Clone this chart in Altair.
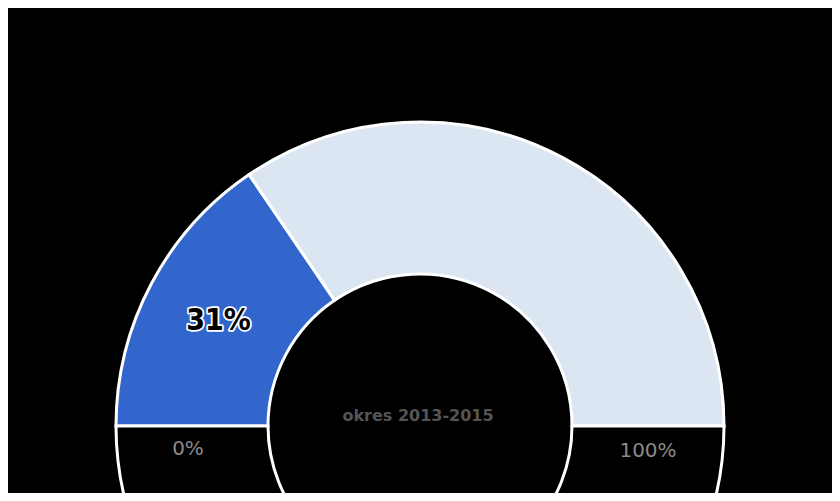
import altair as alt
import pandas as pd

categories = ["wartość", "reszta", "dół"]
values = [31, 69, 100]
colors = ["#3366CC", "#DCE6F2", "#000000"]
value_label = ["31%", "", ""]
scale_min_label = "0%"
scale_max_label = "100%"
center_label = "okres 2013-2015"

df = pd.DataFrame({"cat": categories, "val": values, "lab": value_label,
                   "ord": list(range(len(categories)))})

W, H = 824, 485
CX, CY = 412, 418
R_OUT, R_IN = 304, 152
LABEL_FONT = "DejaVu Sans Condensed, DejaVu Sans, sans-serif"

base = alt.Chart(df).encode(
    theta=alt.Theta("val:Q", stack=True,
                    scale=alt.Scale(range=[-1.5707963, 4.712389])),
    order=alt.Order("ord:Q"),
)

arcs = base.mark_arc(outerRadius=R_OUT, innerRadius=R_IN, stroke="white",
                     strokeWidth=3).encode(
    x=alt.value(CX), y=alt.value(CY),
    color=alt.Color("cat:N", scale=alt.Scale(domain=categories, range=colors),
                    legend=None),
)

label_halo = base.mark_text(radius=(R_OUT + R_IN) / 2, font=LABEL_FONT,
                            fontSize=30, fontWeight="bold", fill="black",
                            stroke="white", strokeWidth=3.5, dy=2,
                            strokeJoin="round").encode(
    x=alt.value(CX), y=alt.value(CY), text="lab:N",
)
label_fill = base.mark_text(radius=(R_OUT + R_IN) / 2, font=LABEL_FONT,
                            fontSize=30, fontWeight="bold", fill="black",
                            dy=2).encode(
    x=alt.value(CX), y=alt.value(CY), text="lab:N",
)

min_t = alt.Chart(pd.DataFrame({"t": [scale_min_label]})).mark_text(
    font="DejaVu Sans", fontSize=20, color="#8a8a8a").encode(
    x=alt.value(CX - 232), y=alt.value(CY + 23), text="t:N")
max_t = alt.Chart(pd.DataFrame({"t": [scale_max_label]})).mark_text(
    font="DejaVu Sans", fontSize=20, color="#8a8a8a").encode(
    x=alt.value(CX + 228), y=alt.value(CY + 25), text="t:N")
center_t = alt.Chart(pd.DataFrame({"t": [center_label]})).mark_text(
    font="DejaVu Sans", fontSize=16, fontWeight="bold", color="#555555").encode(
    x=alt.value(CX - 2), y=alt.value(CY - 10), text="t:N")

chart = alt.layer(arcs, label_halo, label_fill, min_t, max_t, center_t).properties(
    width=W, height=H, background="black", padding=0,
    autosize=alt.AutoSizeParams(type="none"),
).configure_view(stroke=None)

chart.save("out.html", embed_options={"renderer": "svg", "actions": False})
